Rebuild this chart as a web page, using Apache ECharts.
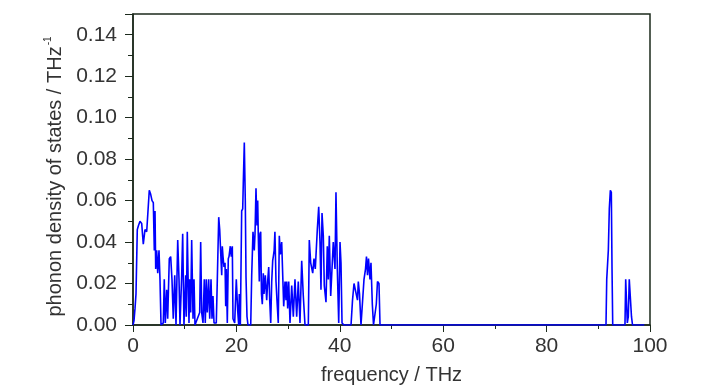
<!DOCTYPE html>
<html>
<head>
<meta charset="utf-8">
<script src="https://cdn.jsdelivr.net/npm/echarts@6/dist/echarts.min.js"></script>
<style>
  html, body { margin: 0; padding: 0; background: #fff; }
  #chart { width: 728px; height: 390px; }
</style>
</head>
<body>
<div id="chart"></div>
<script>
// phonon DOS (THz, states / THz)
const freq = [
  0, 0.19, 0.39, 0.58, 0.83, 1.06, 1.35, 1.68, 1.99, 2.32, 2.65, 3.15, 3.42, 3.68, 3.93,
  4.12, 4.26, 4.39, 4.58, 4.78, 5.03, 5.22, 5.42, 5.67, 5.86, 6.05, 6.25, 6.52, 6.71, 7.02,
  7.29, 7.54, 7.79, 8.07, 8.32, 8.65, 8.90, 9.09, 9.42, 9.61, 9.86, 10.19, 10.31, 10.50, 10.70,
  10.83, 10.97, 11.16, 11.35, 11.61, 11.80, 11.99, 12.90, 13.09, 13.29, 13.54, 13.79, 13.98, 14.18,
  14.37, 14.64, 14.84, 15.09, 15.28, 15.47, 15.67, 16.11, 16.31, 16.58, 16.77, 16.96, 17.16, 17.27,
  17.41, 17.60, 17.80, 17.93, 18.05, 18.24, 18.43, 18.57, 18.82, 19.01, 19.21, 19.34, 19.67, 19.98,
  20.25, 20.44, 20.56, 20.76, 21.02, 21.22, 21.33, 21.53, 21.72, 21.86, 22.05, 22.24, 22.77, 22.96,
  23.21, 23.46, 23.60, 23.79, 23.98, 24.12, 24.23, 24.43, 24.56, 24.70, 24.85, 25.01, 25.20, 25.34,
  25.59, 25.86, 26.05, 26.25, 26.44, 26.64, 26.83, 27.02, 27.14, 27.30, 27.45, 27.66, 27.85, 28.10,
  28.30, 28.49, 28.76, 28.96, 29.15, 29.40, 29.59, 29.73, 29.92, 30.12, 30.37, 30.70, 31.01, 31.33,
  31.66, 31.97, 32.30, 32.63, 32.94, 33.27, 33.91, 34.10, 34.37, 34.76, 35.01, 35.26, 35.65, 35.92,
  36.17, 36.36, 36.56, 36.81, 37.00, 37.33, 37.58, 37.78, 37.97, 38.24, 38.49, 38.74, 39.07, 39.26,
  39.52, 39.79, 40.04, 40.23, 40.43, 40.81, 42.17, 42.46, 42.75, 43.13, 43.42, 43.58, 43.81, 44.10,
  44.39, 44.68, 44.97, 45.16, 45.36, 45.55, 45.84, 46.03, 46.29, 46.52, 46.81, 47.06, 47.29, 47.58,
  47.78, 91.49, 91.63, 91.78, 91.94, 92.13, 92.33, 92.52, 92.65, 92.79, 95.16, 95.30, 95.49, 95.61,
  95.80, 95.99, 96.27, 96.42, 96.62, 98.9
];
const dos = [
  0, 0.002, 0.008, 0.015, 0.046, 0.048, 0.050, 0.049, 0.039, 0.046, 0.045, 0.065, 0.063, 0.060, 0.059,
  0.036, 0.055, 0.027, 0.036, 0.025, 0.036, 0.022, 0, 0, 0.001, 0.022, 0.001, 0.017, 0.003, 0.032,
  0.033, 0.022, 0.003, 0.024, 0, 0.041, 0.022, 0, 0.024, 0.044, 0, 0.024, 0.004, 0.045, 0.017,
  0.001, 0.022, 0.006, 0.041, 0.003, 0.022, 0, 0.006, 0.040, 0.006, 0.001, 0.022, 0.001, 0.022,
  0.006, 0.022, 0.003, 0.022, 0.003, 0.014, 0.001, 0.001, 0.022, 0.052, 0.046, 0.035, 0.024, 0.038,
  0.033, 0.028, 0.030, 0.009, 0.027, 0.001, 0.032, 0.033, 0.038, 0.033, 0.038, 0.003, 0.001, 0.022,
  0.007, 0, 0.015, 0, 0.055, 0.056, 0.068, 0.088, 0.060, 0.023, 0.004, 0, 0, 0.024,
  0.045, 0.036, 0.044, 0.066, 0.048, 0.060, 0.044, 0.021, 0.044, 0.045, 0.015, 0.010, 0.025, 0.015,
  0.024, 0.012, 0.021, 0.028, 0.012, 0.001, 0.021, 0.031, 0.033, 0.036, 0.045, 0.021, 0.012, 0.001,
  0.043, 0.034, 0.040, 0.024, 0.009, 0.021, 0.012, 0.021, 0.008, 0.021, 0.001, 0.019, 0.004, 0.022,
  0.004, 0.021, 0.001, 0.031, 0.014, 0, 0, 0.041, 0.030, 0.025, 0.032, 0.027, 0.046, 0.057,
  0.040, 0.017, 0.054, 0.043, 0.019, 0.011, 0.038, 0.022, 0.043, 0.014, 0.027, 0.040, 0.027, 0.064,
  0.027, 0.001, 0.040, 0.030, 0.001, 0, 0, 0.012, 0.020, 0.020, 0.012, 0.021, 0.015, 0,
  0, 0.022, 0.027, 0.033, 0.024, 0.032, 0.022, 0.030, 0.010, 0, 0, 0.010, 0.021, 0.020,
  0, 0, 0.022, 0.022, 0.036, 0.056, 0.065, 0.064, 0.028, 0, 0, 0.022, 0.022, 0.001,
  0.004, 0.022, 0.022, 0.004, 0, 0
];
const yTicks = [0, 0.02, 0.04, 0.06, 0.08, 0.10, 0.12, 0.14];

const font = "'Liberation Sans', Arial, sans-serif";
const axisColor = '#1c2a1c';
const textColor = '#333';

const chart = echarts.init(document.getElementById('chart'));

const option = {
  animation: false,
  grid: {
    left: 133,
    right: 78,
    top: 14,
    bottom: 64,
    show: true,
    borderColor: axisColor,
    borderWidth: 1.5,
  },
  xAxis: [{
    type: 'value',
    min: 0,
    max: 100,
    interval: 20,
    name: 'frequency / THz',
    nameLocation: 'middle',
    nameGap: 40,
    nameTextStyle: {fontFamily: font, fontSize: 20, color: textColor},
    axisLine: {show: true, lineStyle: {color: axisColor, width: 1.5}},
    axisTick: {show: true, inside: false, length: 7, lineStyle: {color: axisColor}},
    minorTick: {show: true, splitNumber: 2, length: 4, lineStyle: {color: axisColor}},
    splitLine: {show: false},
    axisLabel: {fontFamily: font, fontSize: 21, color: textColor, margin: 11},
  }],
  yAxis: [{
    type: 'value',
    min: 0,
    max: 0.15,
    interval: 0.02,
    name: '{t|phonon density of states / THz}{s|-1}',
    nameLocation: 'middle',
    nameGap: 66,
    nameTextStyle: {
      padding: [0, 14, 0, 0],
      rich: {
        t: {fontFamily: font, fontSize: 20, color: textColor, lineHeight: 24},
        s: {fontFamily: font, fontSize: 10, color: textColor, verticalAlign: 'top', lineHeight: 24, padding: [0, 0, 11, 1]},
      },
    },
    axisLine: {show: true, lineStyle: {color: axisColor, width: 1.5}},
    axisTick: {show: true, inside: false, length: 8, lineStyle: {color: axisColor}},
    minorTick: {show: true, splitNumber: 2, length: 5, lineStyle: {color: axisColor}},
    splitLine: {show: false},
    axisLabel: {
      fontFamily: font,
      fontSize: 21,
      color: textColor,
      margin: 16,
      showMaxLabel: false,
      formatter: function (v) {
        return yTicks.some(function (t) { return Math.abs(t - v) < 1e-9; }) ? v.toFixed(2) : '';
      },
    },
  }],
  series: [{
    type: 'line',
    data: freq.map(function (f, i) { return [f, dos[i]]; }),
    showSymbol: false,
    smooth: false,
    sampling: null,
    lineStyle: {color: '#0000ff', width: 1.6},
    itemStyle: {color: '#0000ff'},
  }],
};

chart.setOption(option);
</script>
</body>
</html>
